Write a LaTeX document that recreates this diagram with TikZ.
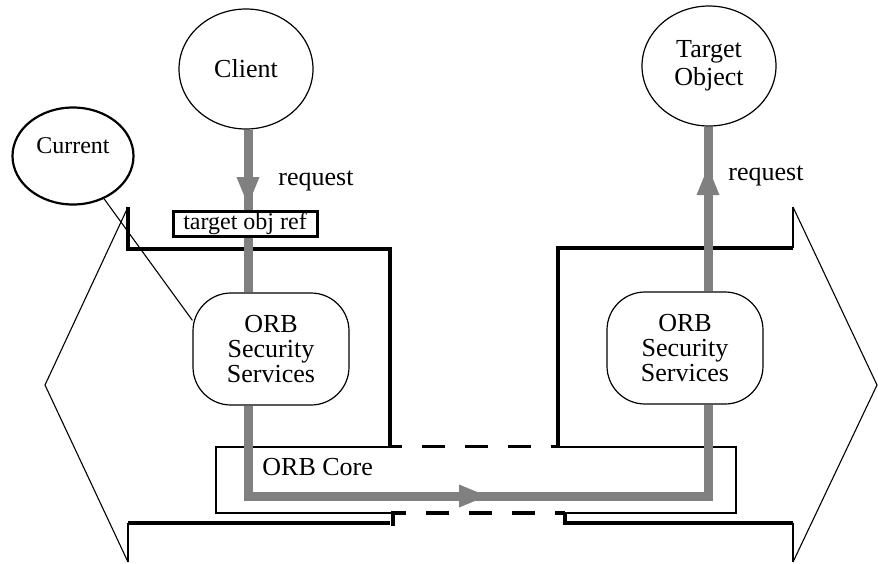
\documentclass[tikz,border=0pt]{standalone}
\usepackage{fontspec}
\setmainfont{Liberation Serif}
\usetikzlibrary{arrows.meta,shapes.geometric}
\definecolor{flowgray}{HTML}{808080}
\begin{document}
\begin{tikzpicture}[x=0.5pt,y=-0.5pt,
  every node/.style={font=\fontsize{13}{12.5}\selectfont, inner sep=0pt},
  thinln/.style={line width=0.55pt},
  medln/.style={line width=1pt},
  thickln/.style={line width=1.6pt},
  dashln/.style={line width=1.6pt, dash pattern=on 11.5pt off 10pt, dash phase=5pt},
  flow/.style={draw=flowgray, line width=4.5pt},
  tipped/.style={-{Triangle[length=14pt,width=11.5pt,line width=0pt]}},
  oval/.style={draw, line width=0.6pt, rounded corners=19pt, minimum width=78pt, minimum height=56pt, align=center},
  ell/.style={draw, ellipse, line width=0.6pt, minimum width=67pt, minimum height=60pt, align=center}]
\useasboundingbox (0,0) rectangle (878,563);

% nodes
\node[ell] (client) at (246,69) {Client};
\node[ell, font=\fontsize{13}{14}\selectfont] (tobj) at (709,66) {Target\\Object};
\node[draw, ellipse, line width=1.1pt, minimum width=60.5pt, minimum height=48.5pt] (cur) at (73,156) {};
\node[font=\fontsize{12}{14}\selectfont] (curtxt) at (73,146) {Current};
\node[oval] (lsec) at (271,349) {ORB\\Security\\Services};
\node[oval] (rsec) at (685,348) {ORB\\Security\\Services};

% left outline
\draw[thinln] (128,207) -- (45,385) -- (128,562);
\draw[medln] (128,562) -- (128,523);
\draw[thickln] (128,523) -- (390,523);
\draw[thickln] (128,207) -- (128,249) -- (390,249) -- (390,446);
% right outline
\draw[thickln] (558,446) -- (558,248) -- (793,248);
\draw[medln] (793,248) -- (793,207);
\draw[thinln] (793,207) -- (877,385) -- (793,562);
\draw[medln] (793,562) -- (793,523);
\draw[thickln] (793,523) -- (565,523);
\draw[thickln] (393,511) -- (393,526);
\draw[thickln] (565,512) -- (565,525);

% ORB core box
\draw[medln] (389,447) -- (216,447) -- (216,513) -- (393,513);
\draw[medln] (558,447) -- (736,447) -- (736,513) -- (565,513);
\draw[dashln] (389,446.5) -- (558,446.5);
\draw[dashln] (393,513) -- (565,513);
\node[anchor=base west] (core) at (262,475) {ORB Core};

% current connector
\draw[thinln] (cur.-54) -- (lsec.160);

% flows
\coordinate (ltip) at (248,205);
\coordinate (rtip) at (708,167);
\coordinate (lbend) at (248,496);
\coordinate (rbend) at (708,496);
\coordinate (mtip) at (487,496);
\draw[flow] (client.south -| ltip) -- (lsec.north -| ltip);
\draw[flow,tipped] (client.south -| ltip) -- (ltip);
\draw[flow] (rsec.north -| rtip) -- (tobj.south -| rtip);
\draw[flow,tipped] (rsec.north -| rtip) -- (rtip);
\draw[flow, line join=miter] (lsec.south -| lbend) -- (lbend) -- (rbend) -- (rsec.south -| rbend);
\draw[flow,tipped] (lbend) -- (mtip);

\node[draw, line width=1.5pt, fill=white, minimum width=72pt, minimum height=12.5pt, font=\fontsize{12}{14}\selectfont] (tref) at (245,223.5) {target obj ref};

\node[anchor=base west] (lreq) at (278,185) {request};
\node[anchor=base west] (rreq) at (728,180) {request};
\end{tikzpicture}
\end{document}
